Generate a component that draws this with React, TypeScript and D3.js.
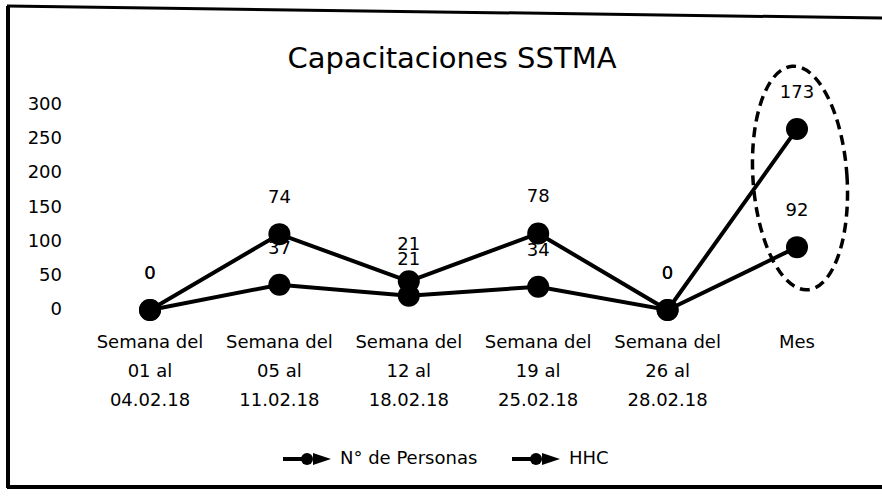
import React from 'react';
import * as d3 from 'd3';

// data
const categories = [
  ['Semana del', '01 al', '04.02.18'],
  ['Semana del', '05 al', '11.02.18'],
  ['Semana del', '12 al', '18.02.18'],
  ['Semana del', '19 al', '25.02.18'],
  ['Semana del', '26 al', '28.02.18'],
  ['Mes'],
];
const personas = [0, 37, 21, 34, 0, 92];
const hhc = [0, 74, 21, 78, 0, 173];
const yTicks = [0, 50, 100, 150, 200, 250, 300];
const seriesNames = ['N° de Personas', 'HHC'];

const W = 882;
const H = 499;
const font = "'DejaVu Sans', sans-serif";

export default function App() {
  const x = d3.scalePoint<number>()
    .domain(d3.range(categories.length))
    .range([150, 797]);
  const y = d3.scaleLinear().domain([0, 300]).range([310, 105]);

  // stacked line: HHC drawn on top of personas
  const stacked = hhc.map((v, i) => v + personas[i]);
  const line = d3.line<number>()
    .x((_, i) => x(i)!)
    .y(d => y(d));

  const series = [
    { name: seriesNames[0], plot: personas, labels: personas },
    { name: seriesNames[1], plot: stacked, labels: hhc },
  ];

  const last = categories.length - 1;

  return (
    <svg width={W} height={H} style={{ position: 'absolute', left: 0, top: 0, background: '#fff' }}>
      {/* frame */}
      <line x1={7} y1={6} x2={W} y2={18} stroke="#000" strokeWidth={3} />
      <line x1={8} y1={6} x2={8} y2={488} stroke="#000" strokeWidth={4} />
      <line x1={7} y1={487} x2={W} y2={487} stroke="#000" strokeWidth={4} />

      <text x={452} y={60} textAnchor="middle" dominantBaseline="middle"
        fontFamily={font} fontSize={29} fill="#000">
        Capacitaciones SSTMA
      </text>

      {/* y axis labels */}
      {yTicks.map(t => (
        <text key={t} x={62} y={y(t)} textAnchor="end" dominantBaseline="middle"
          fontFamily={font} fontSize={18} fill="#000">{t}</text>
      ))}

      {/* category labels */}
      {categories.map((lines, i) => (
        <text key={i} x={x(i)!} textAnchor="middle" fontFamily={font} fontSize={18} fill="#000">
          {lines.map((l, j) => (
            <tspan key={j} x={x(i)!} y={348 + j * 29}>{l}</tspan>
          ))}
        </text>
      ))}

      {/* lines */}
      {series.map(s => (
        <path key={s.name} d={line(s.plot)!} fill="none" stroke="#000" strokeWidth={4} />
      ))}
      {series.map(s => s.plot.map((v, i) => (
        <circle key={s.name + i} cx={x(i)!} cy={y(v)} r={11} fill="#000" />
      )))}

      {/* value labels (the two zero labels sit exactly on top of each other, as in the original) */}
      {series.map(s => s.labels.map((v, i) => (
        <text key={s.name + 'l' + i} x={x(i)!} y={y(s.plot[i]) - 36}
          textAnchor="middle" dominantBaseline="middle" fontFamily={font} fontSize={18} fill="#000">
          {v}
        </text>
      )))}

      {/* highlight ellipse around Mes */}
      <ellipse cx={x(last)! + 3} cy={178} rx={47} ry={112} fill="none" stroke="#000"
        strokeWidth={3.5} strokeDasharray="10 6" transform={`rotate(-4 ${x(last)! + 3} 178)`} />

      {/* legend */}
      {seriesNames.map((n, i) => {
        const lx = i === 0 ? 283 : 512;
        return (
          <g key={n} transform={`translate(${lx},459)`}>
            <line x1={0} y1={0} x2={26} y2={0} stroke="#000" strokeWidth={4} />
            <circle cx={24} cy={0} r={6} fill="#000" />
            <path d="M30,-6 L48,0 L30,6 Z" fill="#000" />
            <text x={57} y={0} dominantBaseline="middle" fontFamily={font} fontSize={18} fill="#000">{n}</text>
          </g>
        );
      })}
    </svg>
  );
}
